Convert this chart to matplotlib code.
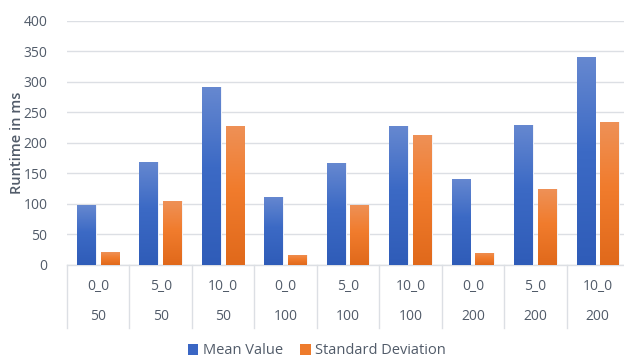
import matplotlib
matplotlib.use("Agg")
import matplotlib.pyplot as plt
import matplotlib.transforms as mtransforms
from matplotlib.colors import LinearSegmentedColormap
from matplotlib.patches import Patch
import numpy as np

plt.rcParams['font.family'] = ['Open Sans', 'DejaVu Sans']

# Data
configs = ["0_0", "5_0", "10_0", "0_0", "5_0", "10_0", "0_0", "5_0", "10_0"]
sizes = ["50", "50", "50", "100", "100", "100", "200", "200", "200"]
mean_value = [98, 169, 291, 112, 167, 227, 141, 230, 340]
std_dev = [21, 104, 228, 17, 99, 213, 20, 124, 234]
y_ticks = [0, 50, 100, 150, 200, 250, 300, 350, 400]

TEXT = "#515B69"
GRID = "#DCDFE4"
BLUE_STOPS = ["#2F5CB8", "#3C6AC5", "#6688D0"]
ORNG_STOPS = ["#E0691B", "#F17C2D", "#EE9157"]
BLUE_SOLID, ORNG_SOLID = "#3A66C4", "#EE7B2C"

W, H = 624, 358
fig = plt.figure(figsize=(W / 100, H / 100), dpi=100)
ax = fig.add_axes([67 / W, 1 - 265 / H, (629 - 67) / W, (265 - 20.7) / H])

x = np.arange(len(configs))
bw = 0.30
off = 0.19


def gradient_bars(xs, vals, stops):
    cmap = LinearSegmentedColormap.from_list(
        "g", [(0.0, stops[0]), (0.55, stops[1]), (1.0, stops[2])])
    grad = np.linspace(0, 1, 256).reshape(-1, 1)
    bars = ax.bar(xs, vals, width=bw, color=stops[1], edgecolor="#F4F6FA",
                  linewidth=0.7, zorder=3)
    for b in bars:
        x0 = b.get_x()
        h = b.get_height()
        im = ax.imshow(grad, cmap=cmap, origin="lower", aspect="auto",
                       extent=[x0, x0 + b.get_width(), 0, h], zorder=3.1,
                       interpolation="bilinear")
        im.set_clip_path(b)
    return bars


gradient_bars(x - off, mean_value, BLUE_STOPS)
gradient_bars(x + off, std_dev, ORNG_STOPS)

ax.set_xlim(-0.5, len(configs) - 0.5)
ax.set_ylim(0, 400)
ax.set_yticks(y_ticks)
ax.tick_params(axis="y", length=0, pad=14, labelsize=10, labelcolor=TEXT)
ax.set_xticks([])
ax.grid(axis="y", color=GRID, linewidth=1.0, zorder=0)
ax.set_axisbelow(True)
for side in ["left", "right", "top"]:
    ax.spines[side].set_visible(False)
ax.spines["bottom"].set_color(GRID)
ax.spines["bottom"].set_linewidth(1.0)

ax.set_ylabel("Runtime in ms", fontsize=10.5, fontweight="semibold",
              color=TEXT, labelpad=0)

# Two-level category axis
trans = mtransforms.blended_transform_factory(ax.transData, ax.transAxes)
for i in range(len(configs)):
    ax.text(i, -0.09, configs[i], transform=trans, ha="center", va="center",
            fontsize=10, color=TEXT)
    ax.text(i, -0.212, sizes[i], transform=trans, ha="center", va="center",
            fontsize=10, color=TEXT)
for b in np.arange(-0.5, len(configs), 1.0):
    ax.plot([b, b], [0, -0.257], transform=trans, color=GRID, linewidth=1.0,
            clip_on=False)

handles = [Patch(facecolor=BLUE_SOLID, label="Mean Value"),
           Patch(facecolor=ORNG_SOLID, label="Standard Deviation")]
fig.legend(handles=handles, loc="center", bbox_to_anchor=(317 / W, 1 - 351 / H),
           ncol=2, frameon=False, fontsize=10.5, handlelength=0.7,
           handleheight=0.7, handletextpad=0.3, columnspacing=1.2,
           labelcolor=TEXT)

fig.savefig("out.png", dpi=100)
